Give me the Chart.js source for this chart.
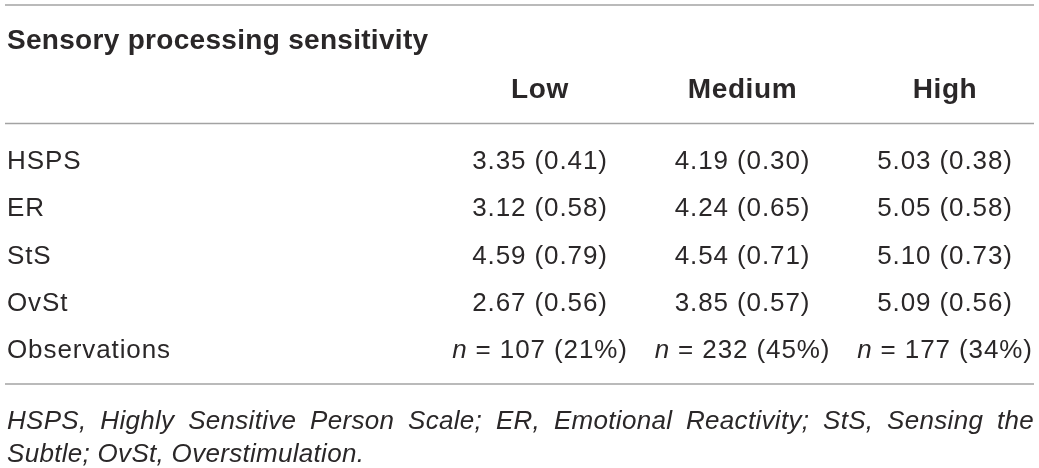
<!DOCTYPE html>
<html>
<head>
<meta charset="utf-8">
<script src="https://cdn.jsdelivr.net/npm/chart.js@4"></script>
<style>
  html, body { margin: 0; padding: 0; background: #ffffff; }
  canvas { display: block; }
</style>
</head>
<body>
<canvas id="c" width="1039" height="468"></canvas>
<script>
// ---------------- data ----------------
const tableTitle = "Sensory processing sensitivity";
const groups = ["Low", "Medium", "High"];
const measures = ["HSPS", "ER", "StS", "OvSt"];
const obsLabel = "Observations";
const meanLow = [3.35, 3.12, 4.59, 2.67];
const sdLow = [0.41, 0.58, 0.79, 0.56];
const meanMedium = [4.19, 4.24, 4.54, 3.85];
const sdMedium = [0.30, 0.65, 0.71, 0.57];
const meanHigh = [5.03, 5.05, 5.10, 5.09];
const sdHigh = [0.38, 0.58, 0.73, 0.56];
const groupN = [107, 232, 177];
const groupPct = [21, 45, 34];
const footnoteLines = [
  "HSPS, Highly Sensitive Person Scale; ER, Emotional Reactivity; StS, Sensing the",
  "Subtle; OvSt, Overstimulation."
];

// ---------------- build datasets ----------------
const rowLabels = [...measures, obsLabel];
const means = [meanLow, meanMedium, meanHigh];
const sds = [sdLow, sdMedium, sdHigh];

const datasets = groups.map((g, gi) => ({
  label: g,
  data: rowLabels.map((r, ri) => {
    if (ri < measures.length) {
      return { x: g, y: r, kind: "stat", mean: means[gi][ri], sd: sds[gi][ri] };
    }
    return { x: g, y: r, kind: "obs", n: groupN[gi], pct: groupPct[gi] };
  }),
  pointRadius: 0,
  pointHoverRadius: 0,
  showLine: false
}));

// ---------------- style ----------------
const FONT = '"Liberation Sans", Arial, Helvetica, sans-serif';
const TEXT = "#2a2728";
const RULE = "#a3a3a3";
const BODY_SIZE = 26;
const BOLD_SIZE = 28;
const BODY_SPACING = "0.9px";
const BOLD_SPACING = "0.3px";
const NOTE_SPACING = "0.3px";
const LEFT_X = 7;
const RULE_LEFT = 5;
const RULE_RIGHT = 1034;

function capBaseline(yCenter, size) { return yCenter + 0.358 * size; }

const tablePlugin = {
  id: "tableText",
  afterDraw(chart) {
    const ctx = chart.ctx;
    const xs = chart.scales.x, ys = chart.scales.y;
    const area = chart.chartArea;
    const step = ys.getPixelForValue(1) - ys.getPixelForValue(0);
    ctx.save();
    ctx.fillStyle = TEXT;
    ctx.textBaseline = "alphabetic";

    // rules
    ctx.strokeStyle = RULE;
    ctx.lineWidth = 1.5;
    const rules = [5, area.top - 0.76 * step, area.bottom + 0.74 * step];
    rules.forEach(y => {
      ctx.beginPath();
      ctx.moveTo(RULE_LEFT, y);
      ctx.lineTo(RULE_RIGHT, y);
      ctx.stroke();
    });

    // title
    ctx.letterSpacing = BOLD_SPACING;
    ctx.font = "bold " + BOLD_SIZE + "px " + FONT;
    ctx.textAlign = "left";
    ctx.fillText(tableTitle, LEFT_X, capBaseline(area.top - 2.54 * step, BOLD_SIZE));

    // column headers
    ctx.letterSpacing = "0.6px";
    ctx.textAlign = "center";
    groups.forEach((g, gi) => {
      ctx.fillText(g, xs.getPixelForValue(gi), capBaseline(area.top - 1.5 * step, BOLD_SIZE));
    });

    // row labels
    ctx.letterSpacing = BODY_SPACING;
    ctx.font = BODY_SIZE + "px " + FONT;
    ctx.textAlign = "left";
    rowLabels.forEach((r, ri) => {
      ctx.fillText(r, LEFT_X, capBaseline(ys.getPixelForValue(ri), BODY_SIZE));
    });

    // cells, at the dataset points
    chart.data.datasets.forEach((ds, di) => {
      const meta = chart.getDatasetMeta(di);
      meta.data.forEach((pt, i) => {
        const d = ds.data[i];
        const yb = capBaseline(pt.y, BODY_SIZE);
        if (d.kind === "stat") {
          const s = d.mean.toFixed(2) + " (" + d.sd.toFixed(2) + ")";
          ctx.font = BODY_SIZE + "px " + FONT;
          ctx.textAlign = "left";
          const w = ctx.measureText(s).width;
          ctx.fillText(s, pt.x - w / 2, yb);
        } else {
          const a = "n";
          const b = " = " + d.n + " (" + d.pct + "%)";
          ctx.font = "italic " + BODY_SIZE + "px " + FONT;
          const wa = ctx.measureText(a).width;
          ctx.font = BODY_SIZE + "px " + FONT;
          const wb = ctx.measureText(b).width;
          const x0 = pt.x - (wa + wb) / 2;
          ctx.textAlign = "left";
          ctx.font = "italic " + BODY_SIZE + "px " + FONT;
          ctx.fillText(a, x0, yb);
          ctx.font = BODY_SIZE + "px " + FONT;
          ctx.fillText(b, x0 + wa, yb);
        }
      });
    });

    // footnote (first line justified)
    ctx.letterSpacing = NOTE_SPACING;
    ctx.font = "italic " + BODY_SIZE + "px " + FONT;
    ctx.textAlign = "left";
    const fy = [area.bottom + 1.5 * step, area.bottom + 2.18 * step];
    footnoteLines.forEach((line, li) => {
      const yb = capBaseline(fy[li], BODY_SIZE);
      if (li < footnoteLines.length - 1) {
        const words = line.split(" ");
        const widths = words.map(w => ctx.measureText(w).width);
        const total = widths.reduce((s, w) => s + w, 0);
        const gap = (RULE_RIGHT - LEFT_X - total) / (words.length - 1);
        let x = LEFT_X;
        words.forEach((w, wi) => { ctx.fillText(w, x, yb); x += widths[wi] + gap; });
      } else {
        ctx.fillText(line, LEFT_X, yb);
      }
    });
    ctx.restore();
  }
};

new Chart(document.getElementById("c"), {
  type: "scatter",
  data: { datasets },
  options: {
    responsive: false,
    animation: false,
    events: [],
    layout: { padding: { left: 540, right: 94, top: 159.5, bottom: 119 } },
    plugins: { legend: { display: false }, tooltip: { enabled: false }, title: { display: false } },
    scales: {
      x: { type: "category", labels: groups, offset: false, display: false },
      y: { type: "category", labels: rowLabels, offset: false, display: false }
    }
  },
  plugins: [tablePlugin]
});
</script>
</body>
</html>
